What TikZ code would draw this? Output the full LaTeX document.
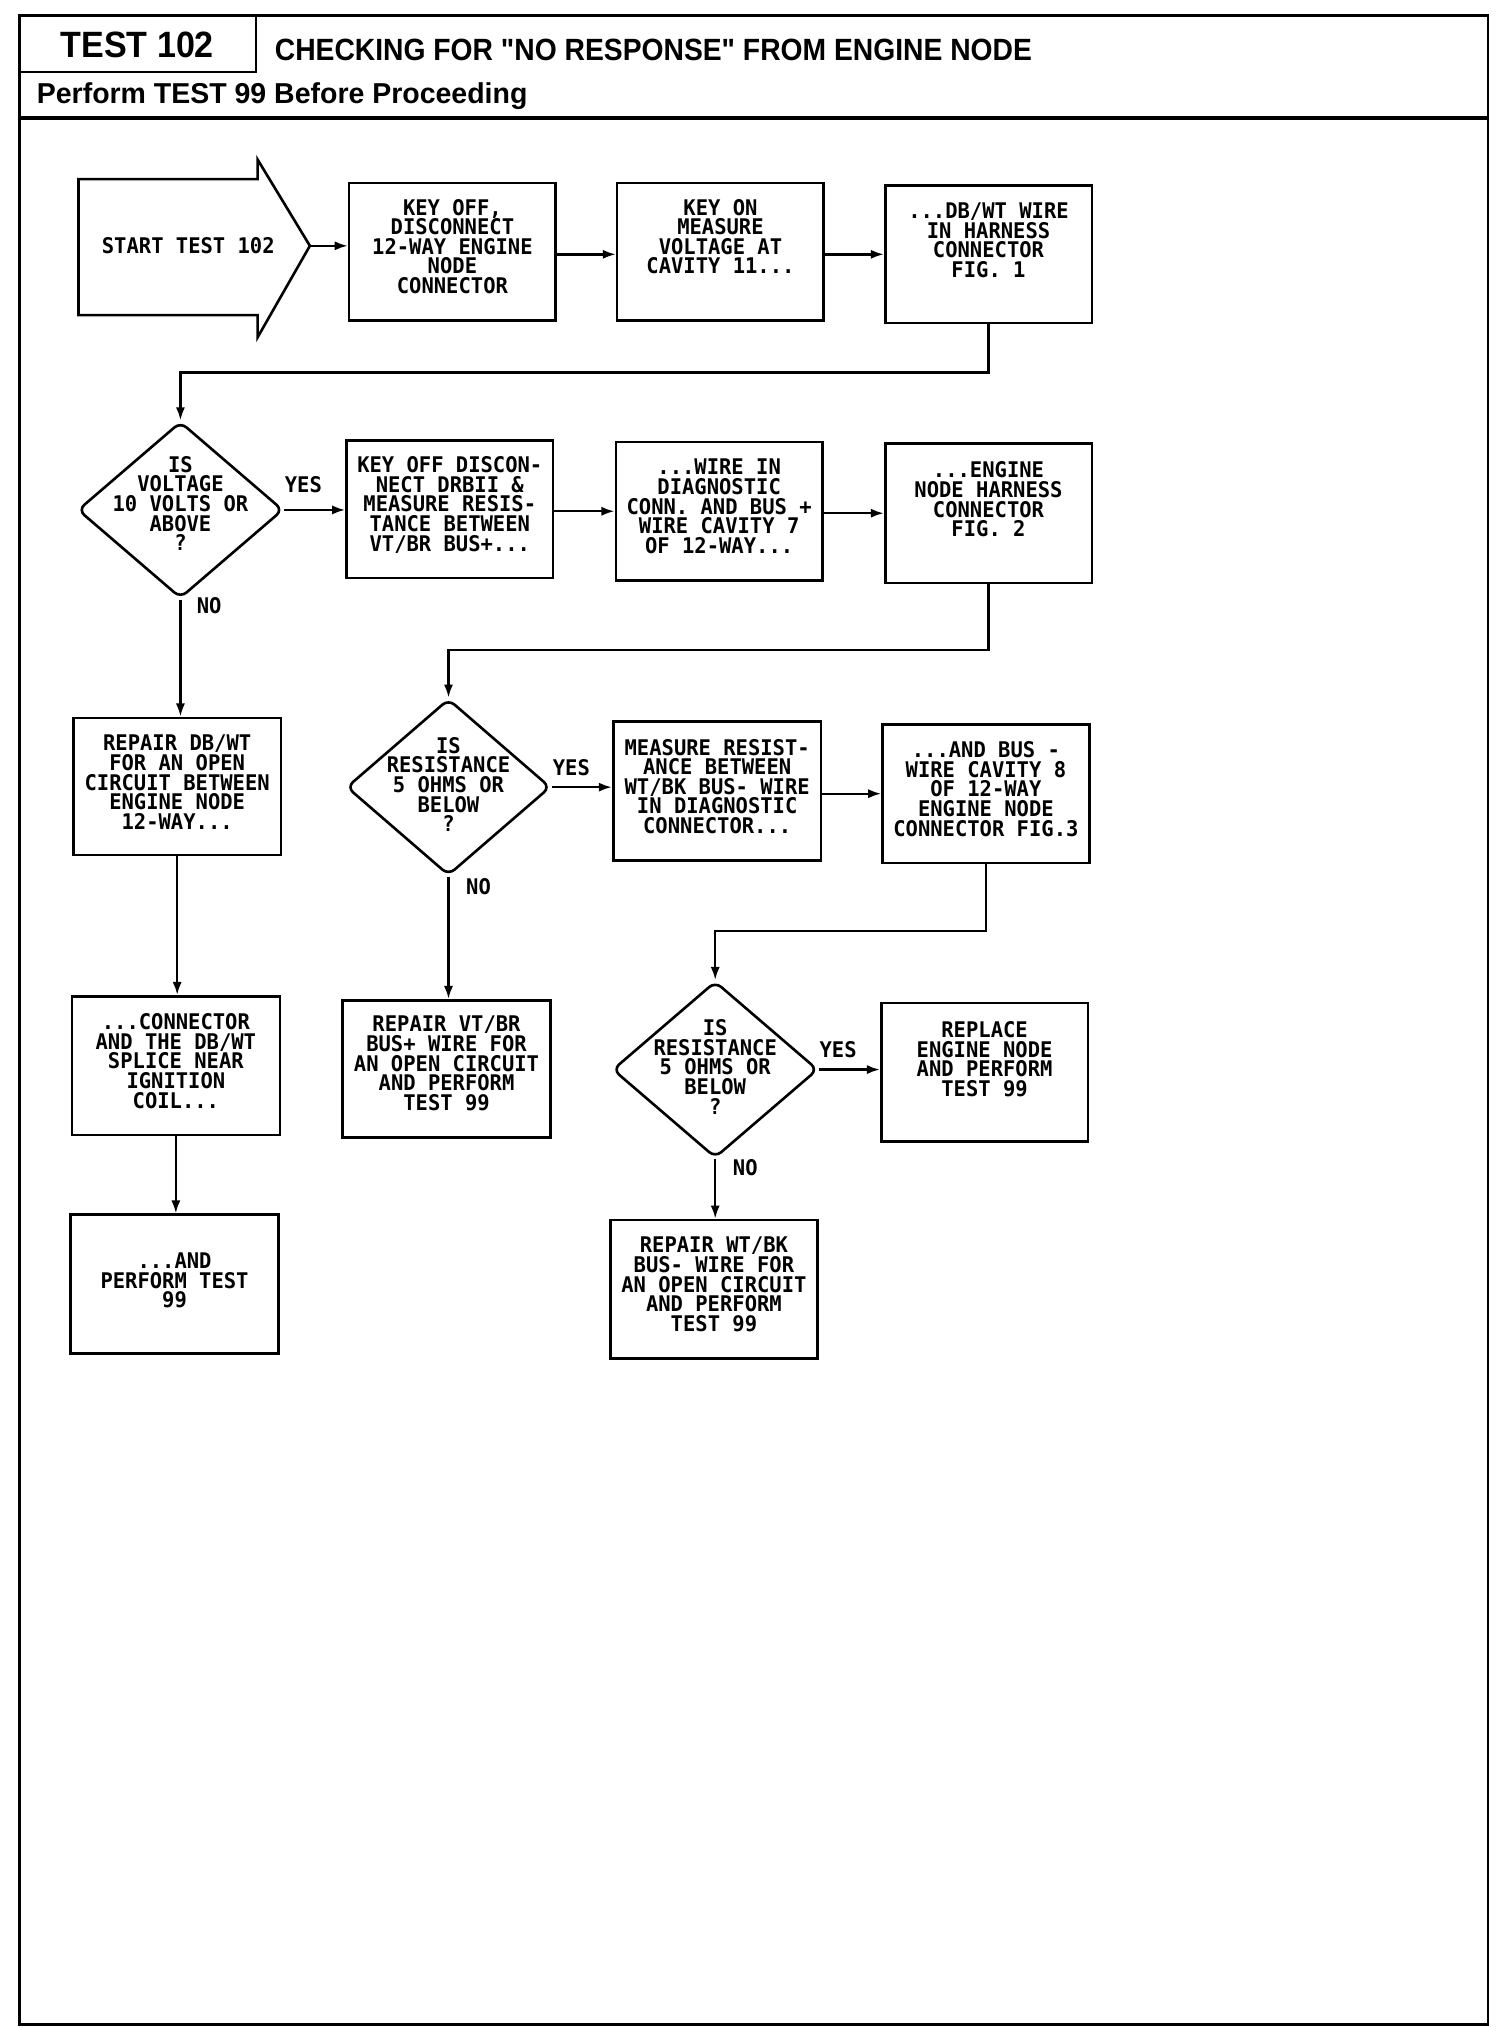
\documentclass[tikz,border=0pt]{standalone}
\usepackage{fontspec}
\usetikzlibrary{arrows.meta,shapes.geometric}
\newfontfamily\hdrfont{Liberation Sans}[FakeStretch=0.92]
\newfontfamily\hdrfontw{Liberation Sans}[FakeStretch=0.99]
\newfontfamily\hdrfontt{Liberation Sans}[FakeStretch=0.93]
\newfontfamily\plotfont{DejaVu Sans Mono}[FakeStretch=0.95]
\begin{document}
\begin{tikzpicture}[x=1pt,y=-1pt,
  box/.style={draw, line width=2pt, rectangle, inner sep=0pt, minimum width=158pt, minimum height=105pt},
  txt/.style={font=\plotfont\bfseries\fontsize{16.5}{15}\selectfont, align=center, inner sep=0pt, anchor=north},
  lbl/.style={font=\plotfont\bfseries\fontsize{16.5}{15}\selectfont, inner sep=0pt},
  arr/.style={line width=1.8pt, -{Latex[length=10pt,width=7pt]}},
  dia/.style={draw, diamond, line width=2pt, inner sep=0pt, rounded corners=6pt, minimum width=157pt, minimum height=135pt},
  hdr/.style={inner sep=0pt},
]
\useasboundingbox (0,0) rectangle (1150,1551);
% frame and header
\draw[line width=2.2pt] (15,12) rectangle (1138,1548);
\draw[line width=1.6pt] (196,12) -- (196,55) -- (15,55);
\draw[line width=3pt] (15,90) -- (1138,90);
\node[hdr, font=\hdrfontt\bfseries\fontsize{28}{28}\selectfont] (h1) at (105,34) {TEST 102};
\node[hdr, font=\hdrfont\bfseries\fontsize{23.5}{24}\selectfont, anchor=base west] (h2) at (210,46) {CHECKING FOR "NO RESPONSE" FROM ENGINE NODE};
\node[hdr, font=\hdrfontw\bfseries\fontsize{22}{22}\selectfont, anchor=base west] (h3) at (28,79) {Perform TEST 99 Before Proceeding};

% start arrow
\coordinate (tip) at (237,188);
\draw[line width=2pt, line join=miter] (197,137) -- (60,137) -- (60,241) -- (197,241) -- (197,258) -- (tip) -- (197,122) -- cycle;
\node[lbl] (start) at (144,188) {START TEST 102};

% boxes
\node[box] (b1) at (346,192.5) {};
\node[box] (b2) at (551,192.5) {};
\node[box] (b3) at (756,194.5) {};
\node[box] (b4) at (344,389.5) {};
\node[box, minimum height=106pt] (b5) at (550,391) {};
\node[box, minimum height=107pt] (b6) at (756,392.5) {};
\node[box, minimum width=159pt] (b7) at (135.5,601.5) {};
\node[box, minimum width=159pt, minimum height=106pt] (b8) at (548.5,605) {};
\node[box, minimum height=106pt] (b9) at (754,607) {};
\node[box, minimum width=159pt, minimum height=106pt] (b10) at (134.5,815) {};
\node[box, minimum width=159pt] (b11) at (341.5,817.5) {};
\node[box, minimum height=106pt] (b12) at (753,820) {};
\node[box, minimum width=159pt, minimum height=106pt] (b13) at (133.5,982) {};
\node[box, minimum height=106pt] (b14) at (546,986) {};

% box texts
\node[txt] (t1) at ([yshift=-13pt]b1.north) {KEY OFF,\\DISCONNECT\\12-WAY ENGINE\\NODE\\CONNECTOR};
\node[txt] (t2) at ([yshift=-13pt]b2.north) {KEY ON\\MEASURE\\VOLTAGE AT\\CAVITY 11...};
\node[txt] (t3) at ([yshift=-14pt]b3.north) {...DB/WT WIRE\\IN HARNESS\\CONNECTOR\\FIG. 1};
\node[txt] (t4) at ([yshift=-13pt]b4.north) {KEY OFF DISCON-\\NECT DRBII \&\\MEASURE RESIS-\\TANCE BETWEEN\\VT/BR BUS+...};
\node[txt] (t5) at ([yshift=-14pt]b5.north) {...WIRE IN\\DIAGNOSTIC\\CONN. AND BUS +\\WIRE CAVITY 7\\OF 12-WAY...};
\node[txt] (t6) at ([yshift=-15pt]b6.north) {...ENGINE\\NODE HARNESS\\CONNECTOR\\FIG. 2};
\node[txt] (t7) at ([yshift=-14pt]b7.north) {REPAIR DB/WT\\FOR AN OPEN\\CIRCUIT BETWEEN\\ENGINE NODE\\12-WAY...};
\node[txt] (t8) at ([yshift=-14pt]b8.north) {MEASURE RESIST-\\ANCE BETWEEN\\WT/BK BUS- WIRE\\IN DIAGNOSTIC\\CONNECTOR...};
\node[txt] (t9) at ([yshift=-14pt]b9.north) {...AND BUS -\\WIRE CAVITY 8\\OF 12-WAY\\ENGINE NODE\\CONNECTOR FIG.3};
\node[txt] (t10) at ([yshift=-14pt]b10.north) {...CONNECTOR\\AND THE DB/WT\\SPLICE NEAR\\IGNITION\\COIL...};
\node[txt] (t11) at ([yshift=-13pt]b11.north) {REPAIR VT/BR\\BUS+ WIRE FOR\\AN OPEN CIRCUIT\\AND PERFORM\\TEST 99};
\node[txt] (t12) at ([yshift=-15pt]b12.north) {REPLACE\\ENGINE NODE\\AND PERFORM\\TEST 99};
\node[txt] (t13) at ([yshift=-30pt]b13.north) {...AND\\PERFORM TEST\\99};
\node[txt] (t14) at ([yshift=-14pt]b14.north) {REPAIR WT/BK\\BUS- WIRE FOR\\AN OPEN CIRCUIT\\AND PERFORM\\TEST 99};

% diamonds
\node[dia] (d1) at (138,390) {};
\node[dia, minimum width=156pt] (d2) at (343,602) {};
\node[dia] (d3) at (547,818) {};
\node[txt, anchor=center] (d1t) at (138,385) {IS\\VOLTAGE\\10 VOLTS OR\\ABOVE\\?};
\node[txt, anchor=center] (d2t) at (343,600) {IS\\RESISTANCE\\5 OHMS OR\\BELOW\\?};
\node[txt, anchor=center] (d3t) at (547,816) {IS\\RESISTANCE\\5 OHMS OR\\BELOW\\?};

% labels
\node[lbl] (y1) at (232,371) {YES};
\node[lbl] (n1) at (160,463) {NO};
\node[lbl] (y2) at (437,587) {YES};
\node[lbl] (n2) at (366,678) {NO};
\node[lbl] (y3) at (641,803) {YES};
\node[lbl] (n3) at (570,893) {NO};

% connectors
\draw[arr] (tip) -- (tip -| b1.west);
\draw[arr] ([yshift=-2pt]b1.east) -- ([yshift=-2pt]b1.east -| b2.west);
\draw[arr] (b2.east |- b3.west) -- (b3.west);
\coordinate (c1) at (b3.south |- 0,285);
\draw[arr] (b3.south) -- (c1) -- (c1 -| d1.north) -- (d1.north);
\draw[arr] (d1.east) -- (d1.east -| b4.west);
\draw[arr] (b4.east |- b5.west) -- (b5.west);
\draw[arr] (b5.east |- b6.west) -- (b6.west);
\coordinate (c2) at (b6.south |- 0,497);
\draw[arr] (b6.south) -- (c2) -- (c2 -| d2.north) -- (d2.north);
\draw[arr] (d1.south) -- (d1.south |- b7.north);
\draw[arr] (d2.east) -- (d2.east -| b8.west);
\draw[arr] (b8.east |- b9.west) -- (b9.west);
\coordinate (c3) at (b9.south |- 0,712);
\draw[arr] (b9.south) -- (c3) -- (c3 -| d3.north) -- (d3.north);
\draw[arr] (b7.south) -- (b7.south |- b10.north);
\draw[arr] (d2.south) -- (d2.south |- b11.north);
\draw[arr] (d3.east) -- (d3.east -| b12.west);
\draw[arr] (b10.south) -- (b10.south |- b13.north);
\draw[arr] (d3.south) -- (d3.south |- b14.north);
\end{tikzpicture}
\end{document}
